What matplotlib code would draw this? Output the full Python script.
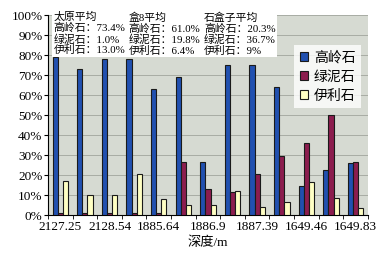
import numpy as np
from matplotlib import pyplot as plt
from matplotlib.ticker import FixedLocator, PercentFormatter

plt.rcParams["font.family"] = ["Liberation Serif", "Noto Sans CJK SC"]

depth_labels = ["2127.25", "", "2128.54", "", "1885.64", "", "1886.9", "",
                "1887.39", "", "1649.46", "", "1649.83"]
kaolinite = [79, 73, 78, 78, 63, 69, 26.5, 75, 75, 64, 14.5, 22.5, 26]
chlorite = [1, 1, 1, 1, 1, 26.5, 13, 11.5, 20.5, 29.5, 36, 50, 26.5]
illite = [17, 10, 10, 20.5, 8, 5, 5, 12, 4, 6.5, 16.5, 8.5, 3.5]
series_names = ["高岭石", "绿泥石", "伊利石"]
notes = [
    "太原平均\n高岭石：73.4%\n绿泥石：1.0%\n伊利石：13.0%",
    "盒8平均\n高岭石：61.0%\n绿泥石：19.8%\n伊利石：6.4%",
    "石盒子平均\n高岭石：20.3%\n绿泥石：36.7%\n伊利石：9%",
]

fig = plt.figure(figsize=(3.84, 2.56), dpi=100)
ax = fig.add_axes([0.125, 0.16, 0.833, 0.781])
ax.set_facecolor("#d6dad2")

x = np.arange(len(kaolinite))
w = 0.21
colors = ["#2150b0", "#8c1d4e", "#ffffc4"]
for i, (vals, c) in enumerate(zip([kaolinite, chlorite, illite], colors)):
    ax.bar(x + (i - 1) * w, vals, width=w, color=c, edgecolor="#1a1a1a",
           linewidth=0.8, label=series_names[i], zorder=3)

ax.set_xlim(-0.5, len(x) - 0.5)
ax.set_ylim(0, 100)
ax.yaxis.set_major_locator(FixedLocator(np.arange(0, 101, 10)))
ax.yaxis.set_major_formatter(PercentFormatter(decimals=0))
ax.set_xticks(x)
ax.set_xticklabels(depth_labels)
ax.xaxis.set_minor_locator(FixedLocator(np.arange(-0.5, len(x), 1)))
ax.tick_params(axis="x", which="major", length=0, labelsize=9.5, pad=4)
ax.tick_params(axis="x", which="minor", length=3, direction="out")
ax.tick_params(axis="y", labelsize=9.5, length=3, pad=1)
ax.grid(axis="y", color="#a8aca4", linewidth=0.7, zorder=0)
for s in ["top", "right"]:
    ax.spines[s].set_visible(False)
ax.set_xlabel("深度/m", fontsize=9.5, labelpad=3)

for xpos, txt in zip([-0.28, 2.78, 5.84], notes):
    ax.text(xpos, 101.5, txt, fontsize=7.8, va="top", ha="left",
            linespacing=1.08, zorder=5, clip_on=False,
            bbox=dict(facecolor="white", edgecolor="none", pad=1.2))

leg = ax.legend(loc="upper right", bbox_to_anchor=(1.0, 0.885), fontsize=10,
                frameon=True, fancybox=False, edgecolor="none",
                handlelength=0.6, handleheight=0.6, handletextpad=0.4,
                labelspacing=0.45, borderpad=0.4)
leg.get_frame().set_facecolor("white")
leg.set_zorder(6)

fig.savefig("out.png", dpi=100)
